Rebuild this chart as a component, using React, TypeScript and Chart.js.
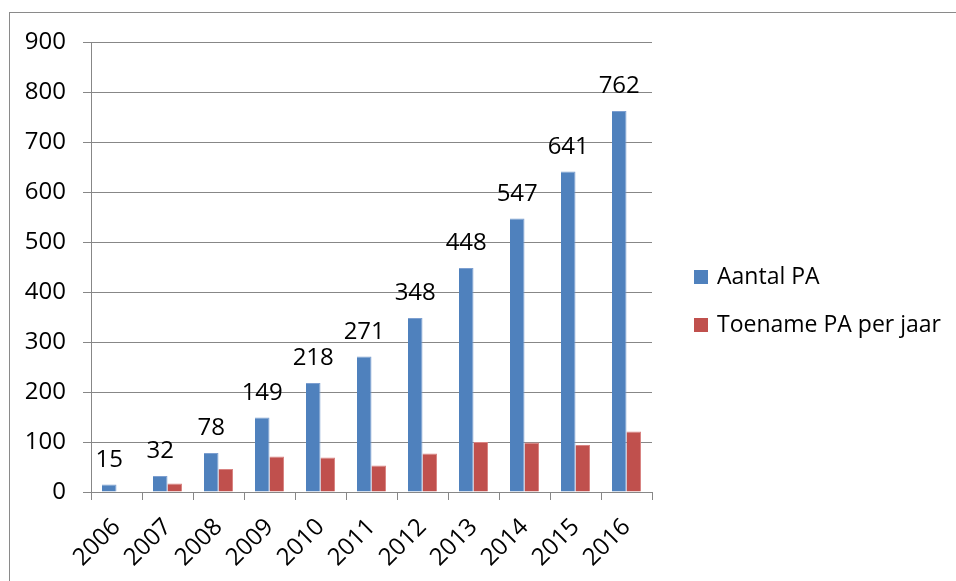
import { useEffect, useRef } from "react";
import { Chart, registerables } from "chart.js";

Chart.register(...registerables);

// Jaren en reeksen
const years = ["2006", "2007", "2008", "2009", "2010", "2011", "2012", "2013", "2014", "2015", "2016"];
const aantalPA = [15, 32, 78, 149, 218, 271, 348, 448, 547, 641, 762];
const toenamePA: (number | null)[] = [null, 17, 46, 71, 69, 53, 77, 100, 99, 94, 121];
const seriesNames = ["Aantal PA", "Toename PA per jaar"];
const yMax = 900;
const yStep = 100;

const BLUE = "#4F81BD";
const RED = "#C0504D";
const GRID = "#878787";
const FONT = "'Open Sans', sans-serif";
const NUM_SIZE = 24;
const LEGEND_SIZE = 23;

const frameAndLabels = {
  id: "frameAndLabels",
  beforeDraw(chart: any) {
    const ctx = chart.ctx;
    ctx.save();
    ctx.fillStyle = "#ffffff";
    ctx.fillRect(0, 0, chart.width, chart.height);
    ctx.strokeStyle = "#8a8a8a";
    ctx.lineWidth = 1;
    ctx.strokeRect(9.5, 12.5, chart.width + 20, chart.height + 20);
    ctx.restore();
  },
  afterDatasetsDraw(chart: any) {
    const ctx = chart.ctx;
    const meta = chart.getDatasetMeta(0);
    ctx.save();
    ctx.font = `${NUM_SIZE}px ${FONT}`;
    ctx.fillStyle = "#000";
    ctx.textAlign = "center";
    ctx.textBaseline = "alphabetic";
    meta.data.forEach((bar: any, i: number) => {
      ctx.fillText(String(aantalPA[i]), bar.x, bar.y - 18);
    });

    // legenda
    const items = [
      { label: seriesNames[0], color: BLUE, cy: 277 },
      { label: seriesNames[1], color: RED, cy: 325 },
    ];
    ctx.font = `${LEGEND_SIZE}px ${FONT}`;
    ctx.textAlign = "left";
    ctx.textBaseline = "middle";
    items.forEach((it) => {
      ctx.fillStyle = it.color;
      ctx.fillRect(694, it.cy - 7, 14, 14);
      ctx.fillStyle = "#000";
      ctx.fillText(it.label, 717, it.cy);
    });
    ctx.restore();
  },
};

export default function App() {
  const ref = useRef<HTMLCanvasElement | null>(null);

  useEffect(() => {
    if (!ref.current) return;
    const chart = new Chart(ref.current, {
      type: "bar",
      data: {
        labels: years,
        datasets: [
          {
            label: seriesNames[0],
            data: aantalPA,
            backgroundColor: BLUE,
            borderColor: "#7d9fd0",
            borderWidth: { top: 1, right: 1, left: 0, bottom: 0 },
            categoryPercentage: 0.57,
            barPercentage: 1,
          },
          {
            label: seriesNames[1],
            data: toenamePA,
            backgroundColor: RED,
            borderColor: "#d98482",
            borderWidth: { top: 1, right: 1, left: 0, bottom: 0 },
            categoryPercentage: 0.57,
            barPercentage: 1,
          },
        ],
      },
      options: {
        responsive: false,
        animation: false,
        layout: { padding: { left: 0, top: 42, right: 304, bottom: 0 } },
        plugins: {
          legend: { display: false },
          tooltip: { enabled: false },
          title: { display: false },
        },
        scales: {
          x: {
            afterFit: (scale: any) => {
              scale.height = 89;
            },
            grid: {
              offset: true,
              drawOnChartArea: false,
              drawTicks: true,
              tickLength: 8,
              color: GRID,
              lineWidth: 1,
            },
            border: { display: true, color: GRID, width: 1 },
            ticks: {
              minRotation: 45,
              maxRotation: 45,
              padding: 13,
              color: "#000",
              font: { family: FONT, size: NUM_SIZE },
            },
          },
          y: {
            min: 0,
            max: yMax,
            afterFit: (scale: any) => {
              scale.width = 91;
            },
            grid: {
              color: GRID,
              lineWidth: 1,
              drawTicks: true,
              tickLength: 8,
            },
            border: { display: true, color: GRID, width: 1 },
            ticks: {
              stepSize: yStep,
              padding: 17,
              color: "#000",
              font: { family: FONT, size: NUM_SIZE },
            },
          },
        },
      },
      plugins: [frameAndLabels],
    });
    return () => chart.destroy();
  }, []);

  return (
    <div style={{ position: "absolute", left: 0, top: 0, width: 956, height: 581, background: "#fff" }}>
      <canvas ref={ref} width={956} height={581} />
    </div>
  );
}
